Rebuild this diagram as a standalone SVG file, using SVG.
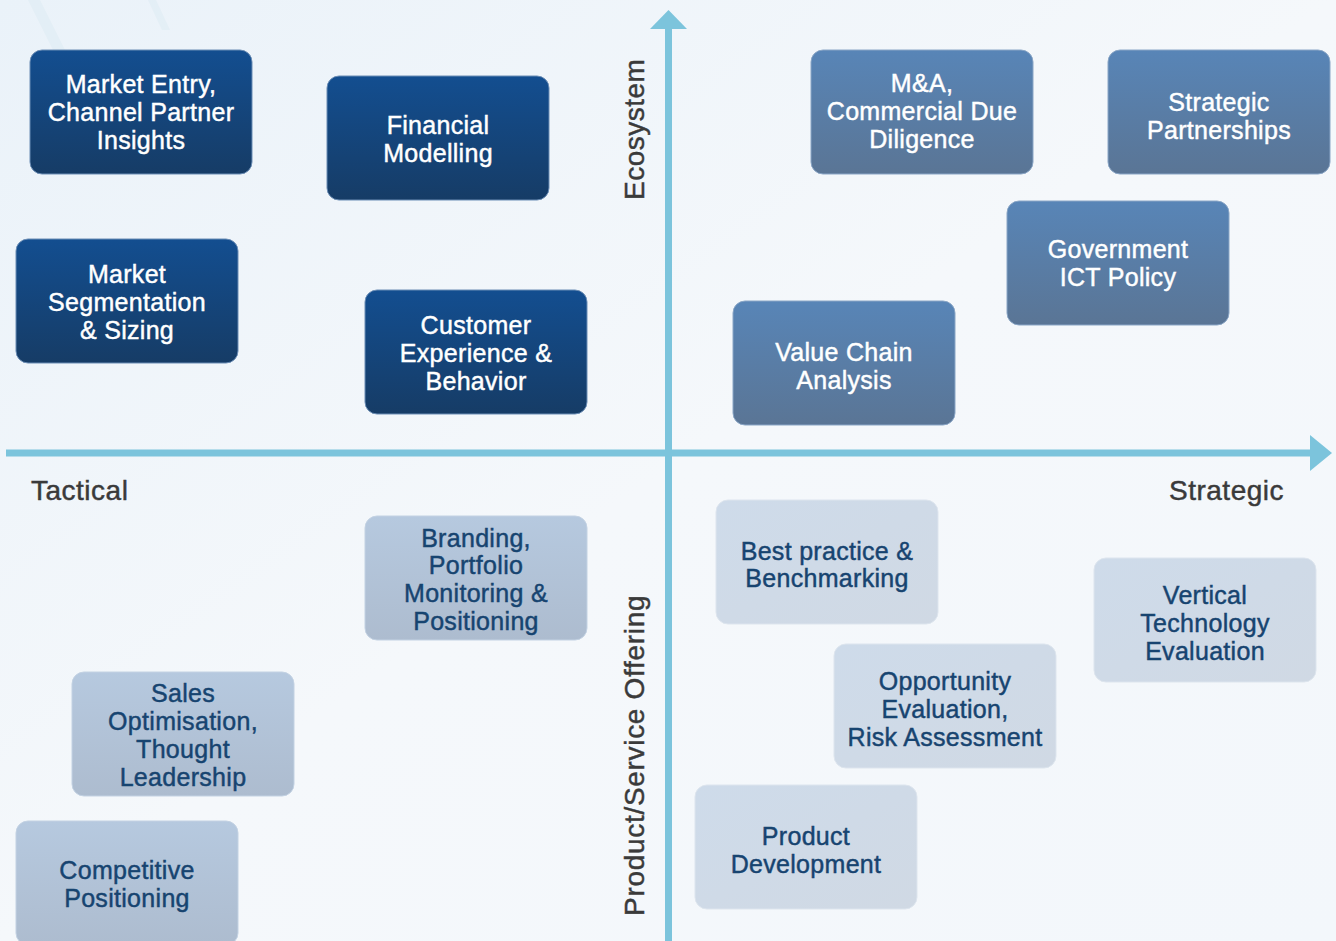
<svg xmlns="http://www.w3.org/2000/svg" width="1336" height="941" viewBox="0 0 1336 941">
<defs>
<linearGradient id="bg" x1="0" y1="0" x2="1" y2="1">
<stop offset="0" stop-color="#eaf2f9"/>
<stop offset="0.5" stop-color="#f5f8fb"/>
<stop offset="1" stop-color="#f3f7fb"/>
</linearGradient>
<linearGradient id="gDark" x1="0" y1="0" x2="0" y2="1">
<stop offset="0" stop-color="#134e90"/>
<stop offset="1" stop-color="#163c66"/>
</linearGradient>
<linearGradient id="gMid" x1="0" y1="0" x2="0" y2="1">
<stop offset="0" stop-color="#5885b7"/>
<stop offset="1" stop-color="#5a7595"/>
</linearGradient>
<linearGradient id="gLight" x1="0" y1="0" x2="0" y2="1">
<stop offset="0" stop-color="#b6c9df"/>
<stop offset="1" stop-color="#adbccf"/>
</linearGradient>
<linearGradient id="gPale" x1="0" y1="0" x2="1" y2="1">
<stop offset="0" stop-color="#cedbea"/>
<stop offset="1" stop-color="#d0d9e4"/>
</linearGradient>
<style>
.node rect{stroke-width:1}
.dark rect{fill:url(#gDark);stroke:#6b8db5}
.mid rect{fill:url(#gMid);stroke:#8aa6c6}
.light rect{fill:url(#gLight);stroke:#c3d2e3}
.pale rect{fill:url(#gPale);stroke:#dde5ee}
.node text{font-family:"Liberation Sans",Arial,sans-serif;font-size:25px;letter-spacing:0.3px;text-anchor:middle;stroke-width:0.45px}
.dark text,.mid text{fill:#ffffff;stroke:#ffffff}
.light text,.pale text{fill:#174470;stroke:#174470}
.axisLabel{font-family:"Liberation Sans",Arial,sans-serif;font-size:28px;letter-spacing:0.5px;fill:#3a3a3a;stroke:#3a3a3a;stroke-width:0.45px}
.axis{stroke:#7cc4dc;stroke-width:7;fill:none}
.head{fill:#7cc4dc}
</style>
</defs>
<rect x="0" y="0" width="1336" height="941" fill="url(#bg)"/>
<g opacity="0.3">
<polygon points="28,0 40,0 70,60 58,60" fill="#d4e6f0"/>
<polygon points="148,0 156,0 170,30 162,30" fill="#d4e6f0"/>
</g>

<g id="connectors">
<line class="axis" x1="6" y1="453" x2="1312" y2="453"/>
<polygon class="head" points="1310,435 1332,453 1310,471"/>
<line class="axis" x1="668.5" y1="941" x2="668.5" y2="26"/>
<polygon class="head" points="650,29 668.5,10 687,29"/>
</g>

<g id="labels">
<text class="axisLabel" x="31" y="500">Tactical</text>
<text class="axisLabel" x="1284" y="500" text-anchor="end">Strategic</text>
<text class="axisLabel" transform="translate(644,200) rotate(-90)">Ecosystem</text>
<text class="axisLabel" transform="translate(644,916) rotate(-90)" style="letter-spacing:0.7px">Product/Service Offering</text>
</g>

<g id="market-entry" class="node dark">
<rect x="30" y="50" width="222" height="124" rx="12"/>
<text x="141" y="93">Market Entry,</text>
<text x="141" y="121">Channel Partner</text>
<text x="141" y="149">Insights</text>
</g>
<g id="financial-modelling" class="node dark">
<rect x="327" y="76" width="222" height="124" rx="12"/>
<text x="438" y="134">Financial</text>
<text x="438" y="162">Modelling</text>
</g>
<g id="market-segmentation" class="node dark">
<rect x="16" y="239" width="222" height="124" rx="12"/>
<text x="127" y="283">Market</text>
<text x="127" y="311">Segmentation</text>
<text x="127" y="339">&amp; Sizing</text>
</g>
<g id="customer-experience" class="node dark">
<rect x="365" y="290" width="222" height="124" rx="12"/>
<text x="476" y="334">Customer</text>
<text x="476" y="362">Experience &amp;</text>
<text x="476" y="390">Behavior</text>
</g>

<g id="ma-due-diligence" class="node mid">
<rect x="811" y="50" width="222" height="124" rx="12"/>
<text x="922" y="92">M&amp;A,</text>
<text x="922" y="120">Commercial Due</text>
<text x="922" y="148">Diligence</text>
</g>
<g id="strategic-partnerships" class="node mid">
<rect x="1108" y="50" width="222" height="124" rx="12"/>
<text x="1219" y="111">Strategic</text>
<text x="1219" y="139">Partnerships</text>
</g>
<g id="government-ict" class="node mid">
<rect x="1007" y="201" width="222" height="124" rx="12"/>
<text x="1118" y="258">Government</text>
<text x="1118" y="286">ICT Policy</text>
</g>
<g id="value-chain" class="node mid">
<rect x="733" y="301" width="222" height="124" rx="12"/>
<text x="844" y="361">Value Chain</text>
<text x="844" y="389">Analysis</text>
</g>

<g id="branding" class="node light">
<rect x="365" y="516" width="222" height="124" rx="12"/>
<text x="476" y="547">Branding,</text>
<text x="476" y="574">Portfolio</text>
<text x="476" y="602">Monitoring &amp;</text>
<text x="476" y="630">Positioning</text>
</g>
<g id="sales-optimisation" class="node light">
<rect x="72" y="672" width="222" height="124" rx="12"/>
<text x="183" y="702">Sales</text>
<text x="183" y="730">Optimisation,</text>
<text x="183" y="758">Thought</text>
<text x="183" y="786">Leadership</text>
</g>
<g id="competitive-positioning" class="node light">
<rect x="16" y="821" width="222" height="124" rx="12"/>
<text x="127" y="879">Competitive</text>
<text x="127" y="907">Positioning</text>
</g>

<g id="best-practice" class="node pale">
<rect x="716" y="500" width="222" height="124" rx="12"/>
<text x="827" y="560">Best practice &amp;</text>
<text x="827" y="587">Benchmarking</text>
</g>
<g id="vertical-technology" class="node pale">
<rect x="1094" y="558" width="222" height="124" rx="12"/>
<text x="1205" y="604">Vertical</text>
<text x="1205" y="632">Technology</text>
<text x="1205" y="660">Evaluation</text>
</g>
<g id="opportunity-evaluation" class="node pale">
<rect x="834" y="644" width="222" height="124" rx="12"/>
<text x="945" y="690">Opportunity</text>
<text x="945" y="718">Evaluation,</text>
<text x="945" y="746">Risk Assessment</text>
</g>
<g id="product-development" class="node pale">
<rect x="695" y="785" width="222" height="124" rx="12"/>
<text x="806" y="845">Product</text>
<text x="806" y="873">Development</text>
</g>
</svg>
